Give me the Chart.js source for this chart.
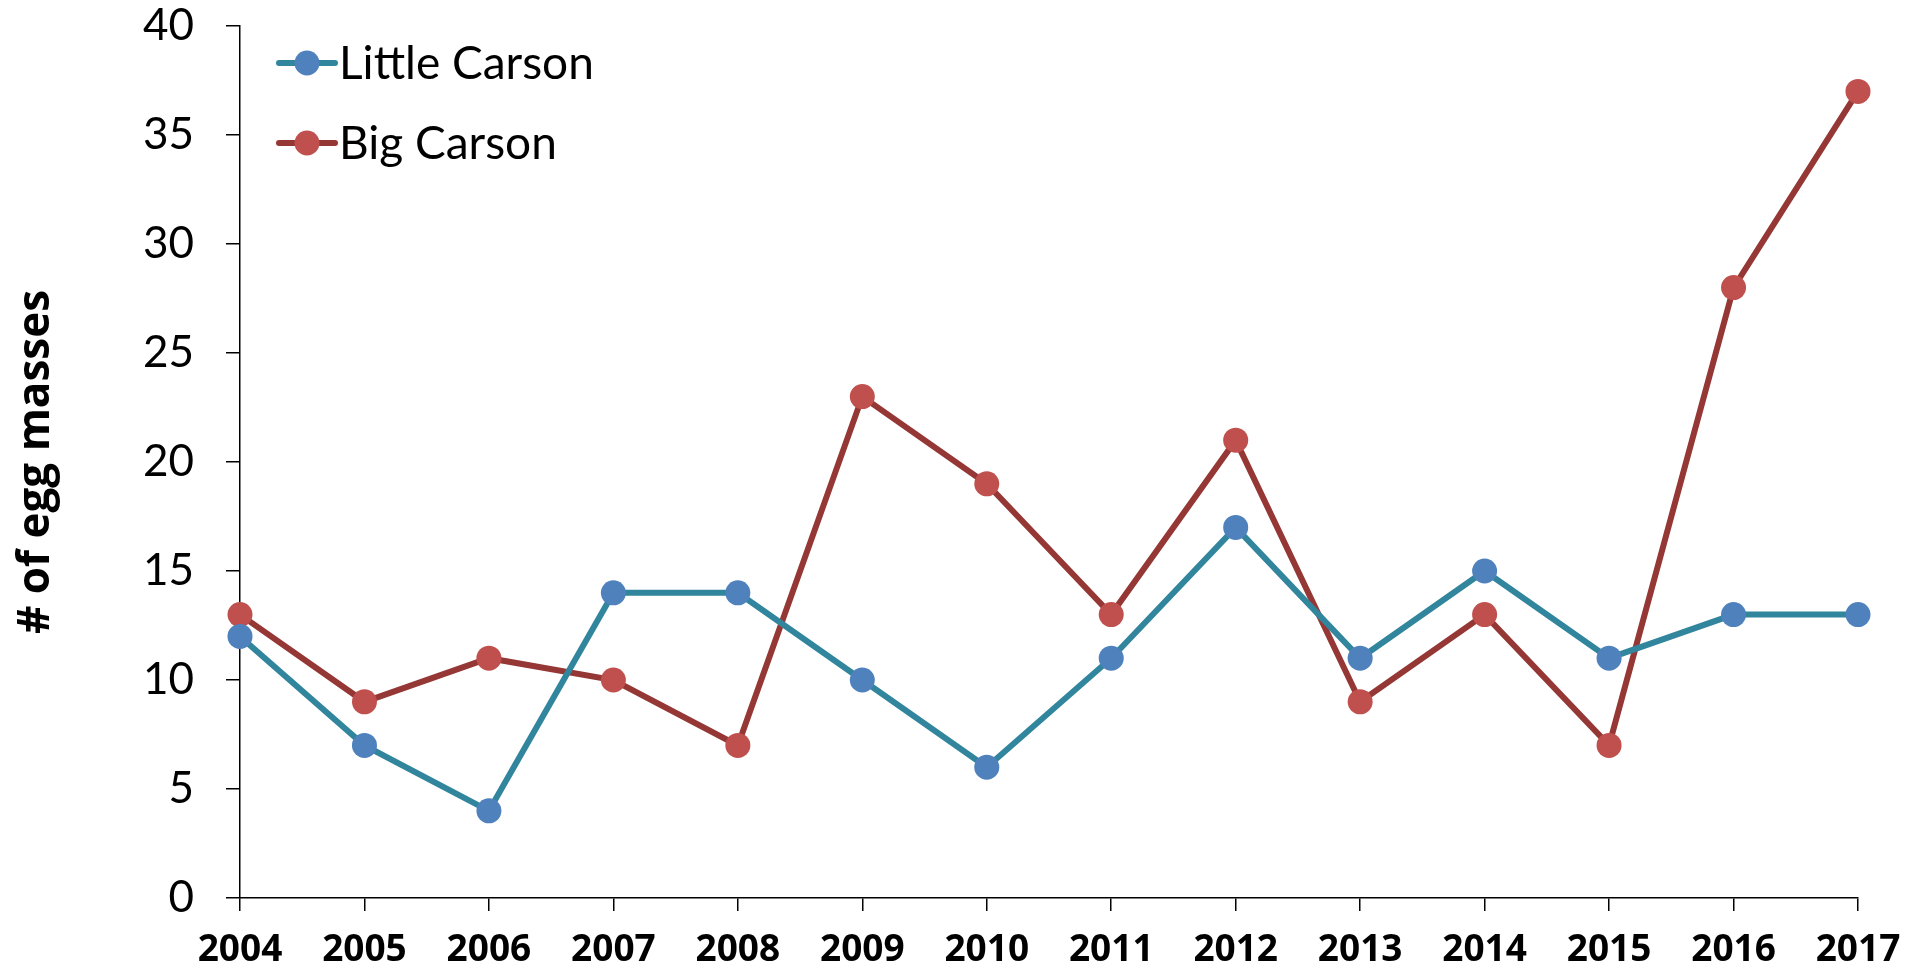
<!DOCTYPE html>
<html>
<head>
<meta charset="utf-8">
<script src="https://cdn.jsdelivr.net/npm/chart.js@4/dist/chart.umd.min.js"></script>
<style>
  html, body { margin: 0; padding: 0; background: #fff; }
  #wrap { width: 1907px; height: 972px; }
</style>
</head>
<body>
<div id="wrap"><canvas id="c" width="1907" height="972"></canvas></div>
<script>
// Egg mass counts per survey year
const years = ['2004','2005','2006','2007','2008','2009','2010','2011','2012','2013','2014','2015','2016','2017'];
const littleCarson = [12, 7, 4, 14, 14, 10, 6, 11, 17, 11, 15, 11, 13, 13];
const bigCarson    = [13, 9, 11, 10, 7, 23, 19, 13, 21, 9, 13, 7, 28, 37];
const yTicks = [0, 5, 10, 15, 20, 25, 30, 35, 40];

const seriesNames = ['Little Carson', 'Big Carson'];
const lineColors = ['#31859C', '#953735'];
const pointColors = ['#4F81BD', '#C0504D'];

// Legend drawn inside the plot area, top-left: line stub + dot + label
const insideLegend = {
  id: 'insideLegend',
  afterDraw(chart) {
    const ctx = chart.ctx;
    const x0 = 279, x1 = 335, dotX = 307;
    const rows = [63, 143];
    ctx.save();
    chart.data.datasets.forEach((ds, i) => {
      const y = rows[i];
      ctx.strokeStyle = ds.borderColor;
      ctx.lineWidth = 6;
      ctx.lineCap = 'round';
      ctx.beginPath();
      ctx.moveTo(x0, y);
      ctx.lineTo(x1, y);
      ctx.stroke();
      ctx.fillStyle = ds.pointBackgroundColor;
      ctx.beginPath();
      ctx.arc(dotX, y, 12.5, 0, Math.PI * 2);
      ctx.fill();
      ctx.fillStyle = '#000';
      ctx.font = '46px Lato';
      ctx.textBaseline = 'middle';
      ctx.textAlign = 'left';
      ctx.fillText(ds.label, 339, y + 1);
    });
    ctx.restore();
  }
};

const datasets = [littleCarson, bigCarson].map((vals, i) => ({
  label: seriesNames[i],
  data: vals,
  borderColor: lineColors[i],
  borderWidth: 6,
  pointBackgroundColor: pointColors[i],
  pointBorderColor: pointColors[i],
  pointBorderWidth: 0,
  pointRadius: 12.5,
  pointHoverRadius: 12.5,
  tension: 0,
  fill: false,
  clip: false
}));

new Chart(document.getElementById('c'), {
  type: 'line',
  data: { labels: years, datasets },
  options: {
    responsive: false,
    animation: false,
    events: [],
    layout: { autoPadding: false, padding: { left: 0, right: 49, top: 26, bottom: 0 } },
    plugins: { legend: { display: false }, tooltip: { enabled: false } },
    scales: {
      x: {
        type: 'category',
        offset: false,
        grid: { drawOnChartArea: false, drawTicks: true, tickLength: 13, color: '#000', lineWidth: 1.5 },
        border: { display: true, color: '#000', width: 1.5 },
        ticks: {
          color: '#000',
          font: { family: 'Open Sans', size: 37, weight: 'bold' },
          padding: 17,
          maxRotation: 0,
          autoSkip: false
        },
        afterFit(scale) {
          scale.height = 74;
          scale.paddingLeft = 0;
          scale.paddingRight = 0;
        }
      },
      y: {
        min: 0,
        max: 40,
        afterBuildTicks(scale) { scale.ticks = yTicks.map(v => ({ value: v })); },
        grid: { drawOnChartArea: false, drawTicks: true, tickLength: 14, color: '#000', lineWidth: 1.5 },
        border: { display: true, color: '#000', width: 1.5 },
        ticks: {
          color: '#000',
          font: { family: 'Lato', size: 44 },
          padding: 32
        },
        title: {
          display: true,
          text: '# of egg masses',
          color: '#000',
          font: { family: 'Open Sans', size: 44, weight: 'bold' },
          padding: { top: 10, bottom: 0 }
        },
        afterFit(scale) {
          scale.width = 240;
          scale.paddingTop = 0;
          scale.paddingBottom = 0;
        }
      }
    }
  },
  plugins: [insideLegend]
});
</script>
</body>
</html>
